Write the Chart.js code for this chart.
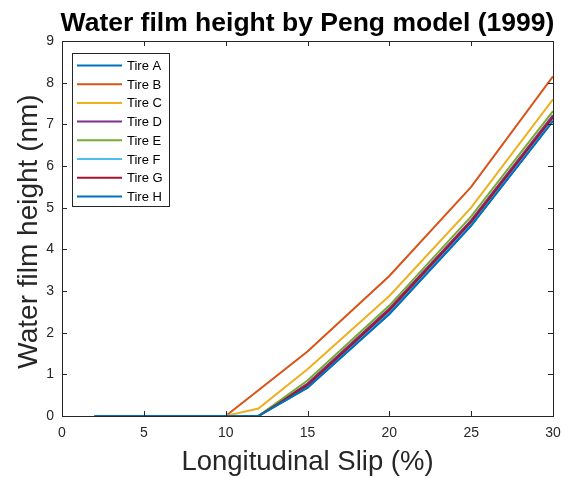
<!DOCTYPE html>
<html>
<head>
<meta charset="utf-8">
<script src="https://cdn.jsdelivr.net/npm/chart.js@4"></script>
<style>
  html, body { margin: 0; padding: 0; background: #fff; }
  #wrap { width: 564px; height: 478px; }
</style>
</head>
<body>
<div id="wrap"><canvas id="filmChart" width="564" height="478"></canvas></div>
<script>
// Longitudinal slip (%) sample points
const slip = [2, 4, 6, 8, 10, 12, 15, 20, 25, 30];

// Water film height (nm) per tire
const tireA = [0, 0, 0, 0, 0, 0,    0.68, 2.45, 4.57, 7.08];
const tireB = [0, 0, 0, 0, 0, 0.62, 1.55, 3.36, 5.50, 8.15];
const tireC = [0, 0, 0, 0, 0, 0.18, 1.12, 2.88, 5.00, 7.60];
const tireD = [0, 0, 0, 0, 0, 0,    0.78, 2.58, 4.70, 7.22];
const tireE = [0, 0, 0, 0, 0, 0,    0.85, 2.65, 4.79, 7.32];
const tireF = [0, 0, 0, 0, 0, 0,    0.72, 2.50, 4.62, 7.12];
const tireG = [0, 0, 0, 0, 0, 0,    0.74, 2.54, 4.66, 7.17];
const tireH = [0, 0, 0, 0, 0, 0,    0.68, 2.45, 4.57, 7.08];

const tireNames = ['Tire A', 'Tire B', 'Tire C', 'Tire D', 'Tire E', 'Tire F', 'Tire G', 'Tire H'];
const tireValues = [tireA, tireB, tireC, tireD, tireE, tireF, tireG, tireH];
const tireColors = ['#0072BD', '#D95319', '#EDB120', '#7E2F8E', '#77AC30', '#4DBEEE', '#A2142F', '#0072BD'];

const xTicks = [0, 5, 10, 15, 20, 25, 30];
const yTicks = [0, 1, 2, 3, 4, 5, 6, 7, 8, 9];

const axisColor = '#262626';
const fontName = '"Liberation Sans", Arial, sans-serif';

// Build datasets (later tires drawn on top, like MATLAB)
const datasets = tireNames.map((name, i) => ({
    label: name,
    data: slip.map((s, j) => ({ x: s, y: tireValues[i][j] })),
    borderColor: tireColors[i],
    backgroundColor: tireColors[i],
    borderWidth: 2,
    pointRadius: 0,
    tension: 0,
    order: tireNames.length - i
}));

// Box, inward ticks, titles and legend drawn on top of the chart
const matlabLook = {
    id: 'matlabLook',
    afterDraw(chart) {
        const ctx = chart.ctx;
        const area = chart.chartArea;
        const xs = chart.scales.x;
        const ys = chart.scales.y;
        const tick = 5;
        const midX = (area.left + area.right) / 2;
        const midY = (area.top + area.bottom) / 2;

        ctx.save();
        ctx.strokeStyle = axisColor;
        ctx.lineWidth = 1;
        ctx.strokeRect(Math.round(area.left) + 0.5, Math.round(area.top) + 0.5,
            Math.round(area.right - area.left), Math.round(area.bottom - area.top));

        ctx.beginPath();
        xTicks.forEach(v => {
            const px = Math.round(xs.getPixelForValue(v)) + 0.5;
            ctx.moveTo(px, area.bottom); ctx.lineTo(px, area.bottom - tick);
            ctx.moveTo(px, area.top); ctx.lineTo(px, area.top + tick);
        });
        yTicks.forEach(v => {
            const py = Math.round(ys.getPixelForValue(v)) + 0.5;
            ctx.moveTo(area.left, py); ctx.lineTo(area.left + tick, py);
            ctx.moveTo(area.right, py); ctx.lineTo(area.right - tick, py);
        });
        ctx.stroke();

        // title
        ctx.fillStyle = '#000';
        ctx.font = 'bold 26.5px ' + fontName;
        ctx.textAlign = 'center';
        ctx.textBaseline = 'alphabetic';
        ctx.fillText('Water film height by Peng model (1999)', midX, 31);

        // axis titles
        ctx.fillStyle = axisColor;
        ctx.font = '27.5px ' + fontName;
        ctx.fillText('Longitudinal Slip (%)', midX, 470);
        ctx.save();
        ctx.translate(37, midY + 3);
        ctx.rotate(-Math.PI / 2);
        ctx.font = '28px ' + fontName;
        ctx.fillText('Water film height (nm)', 0, 0);
        ctx.restore();

        // legend box
        const lx = 72, ly = 53, lw = 97, lh = 153;
        ctx.fillStyle = '#fff';
        ctx.fillRect(lx, ly, lw, lh);
        ctx.strokeStyle = axisColor;
        ctx.strokeRect(lx + 0.5, ly + 0.5, lw, lh);
        ctx.font = '13px ' + fontName;
        ctx.textAlign = 'left';
        ctx.textBaseline = 'middle';
        chart.data.datasets.forEach((ds, i) => {
            const y = ly + 12.5 + i * 18.7;
            ctx.strokeStyle = ds.borderColor;
            ctx.lineWidth = 2;
            ctx.beginPath();
            ctx.moveTo(lx + 5, y);
            ctx.lineTo(lx + 50, y);
            ctx.stroke();
            ctx.fillStyle = '#000';
            ctx.fillText(ds.label, lx + 55, y + 1);
        });
        ctx.restore();
    }
};

const chart = new Chart(document.getElementById('filmChart'), {
    type: 'line',
    data: { datasets: datasets },
    options: {
        responsive: false,
        animation: false,
        layout: { padding: { top: 41, right: 11, left: 0, bottom: 0 } },
        plugins: {
            legend: { display: false },
            title: { display: false },
            tooltip: { enabled: false }
        },
        scales: {
            x: {
                type: 'linear',
                min: 0,
                max: 30,
                afterBuildTicks: s => { s.ticks = xTicks.map(v => ({ value: v })); },
                afterFit: s => {
                    s.height = 62;
                    s.paddingLeft = 0;
                    s.paddingRight = 0;
                },
                grid: { display: false, drawTicks: false },
                border: { display: false },
                ticks: {
                    color: axisColor,
                    font: { family: fontName, size: 14 },
                    padding: 9,
                    maxRotation: 0
                }
            },
            y: {
                min: 0,
                max: 9,
                afterBuildTicks: s => { s.ticks = yTicks.map(v => ({ value: v })); },
                afterFit: s => {
                    s.width = 62;
                    s.paddingTop = 0;
                    s.paddingBottom = 0;
                },
                grid: { display: false, drawTicks: false },
                border: { display: false },
                ticks: {
                    color: axisColor,
                    font: { family: fontName, size: 14 },
                    padding: 8
                }
            }
        }
    },
    plugins: [matlabLook]
});
</script>
</body>
</html>
